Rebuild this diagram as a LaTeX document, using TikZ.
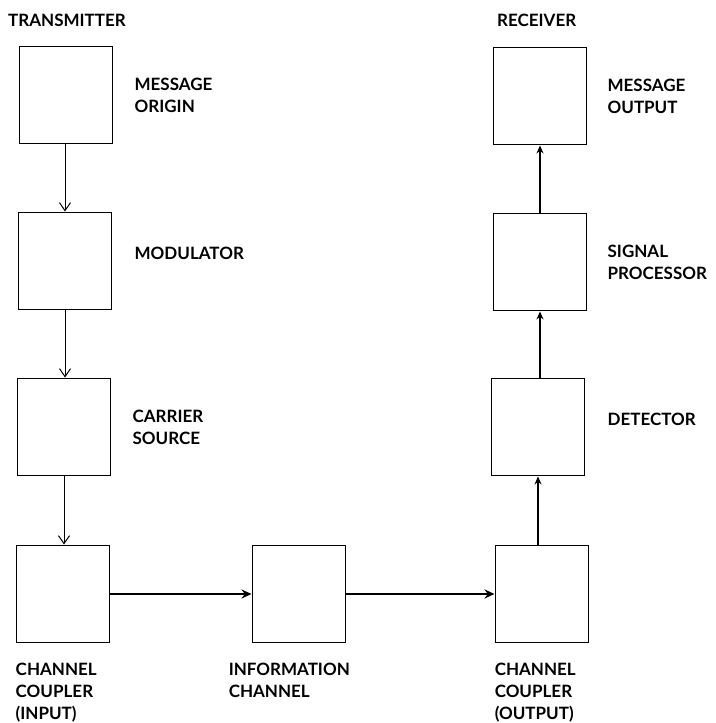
\documentclass[tikz,border=0pt]{standalone}
\usepackage{fontspec}
\setmainfont{Lato}
\usetikzlibrary{arrows,arrows.meta}
\usetikzlibrary{positioning}

\tikzset{
  blk/.style={draw, line width=1.9pt, minimum width=93pt, minimum height=97pt, inner sep=0pt},
  lbl/.style={font=\fontsize{17}{22}\selectfont\bfseries, align=left, inner sep=0pt},
  downarr/.style={-{Straight Barb[length=8pt,width=11pt,line width=1pt]}, line width=1pt},
  uparr/.style={-{Stealth[length=8pt,width=7pt]}, line width=1.3pt},
  flowarr/.style={-{Stealth[length=10pt,width=9pt]}, line width=2.2pt},
}

\begin{document}
\begin{tikzpicture}[x=1pt,y=1pt]
        \useasboundingbox (0,0) rectangle (715,723);
        %
        \node[lbl, anchor=west] (tx) at (8,703) {TRANSMITTER};
        \node[lbl, anchor=west] (rx) at (497,703) {RECEIVER};
        %
        \node[blk] (orig) at (66,628) {};
        \node[blk] (mod) at (65,462) {};
        \node[blk] (carr) at (64,296) {};
        \node[blk] (chin) at (63,129) {};
        \node[blk] (info) at (299,129) {};
        \node[blk] (chout) at (542,129) {};
        \node[blk] (det) at (538,296) {};
        \node[blk] (proc) at (540,461) {};
        \node[blk] (out) at (540,627) {};
        %
        \node[lbl, right=21pt of orig] (origlbl) {MESSAGE\\ORIGIN};
        \node[lbl, right=22pt of mod, yshift=8pt] (modlbl) {MODULATOR};
        \node[lbl, right=21pt of carr] (carrlbl) {CARRIER\\SOURCE};
        \node[lbl, right=20pt of out] (outlbl) {MESSAGE\\OUTPUT};
        \node[lbl, right=20pt of proc] (proclbl) {SIGNAL\\PROCESSOR};
        \node[lbl, right=22pt of det, yshift=8pt] (detlbl) {DETECTOR};
        %
        \node[lbl, anchor=north west] (chinlbl) at ([yshift=-19pt]chin.south west) {CHANNEL\\COUPLER\\(INPUT)};
        \node[lbl, anchor=north west] (infolbl) at ([xshift=-23pt,yshift=-19pt]info.south west) {INFORMATION\\CHANNEL};
        \node[lbl, anchor=north west] (choutlbl) at ([yshift=-19pt]chout.south west) {CHANNEL\\COUPLER\\(OUTPUT)};
        %
        \draw[downarr] (orig.south -| mod.north) -- (mod.north);
        \draw[downarr] (mod.south) -- (carr.north -| mod.south);
        \draw[downarr] (carr.south) -- (chin.north -| carr.south);
        \draw[flowarr] (chin) -- (info);
        \draw[flowarr] (info) -- (chout);
        \draw[uparr] (chout.north -| det.south) -- (det.south);
        \draw[uparr] (det.north -| proc.south) -- (proc);
        \draw[uparr] (proc) -- (out);
      \end{tikzpicture}
\end{document}
